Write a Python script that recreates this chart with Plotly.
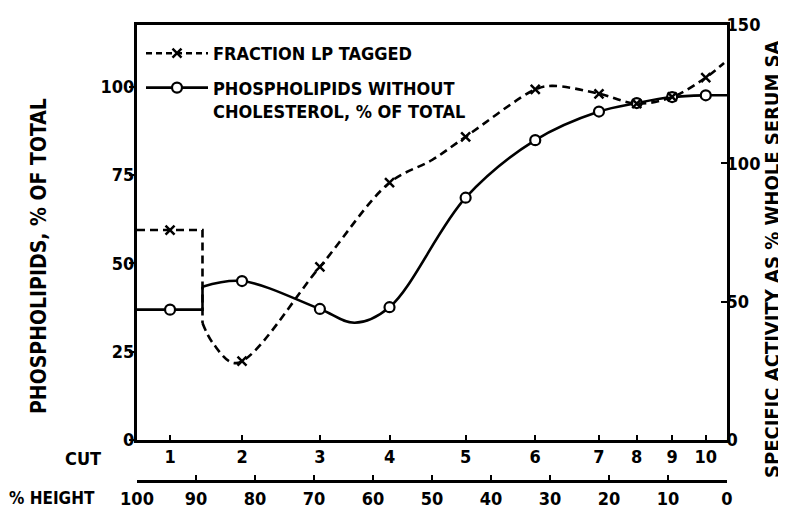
import plotly.graph_objects as go

# ---- data ----
cut_labels = ["1", "2", "3", "4", "5", "6", "7", "8", "9", "10"]
cut_pct_height = [94.4, 82.2, 69.0, 57.2, 44.3, 32.5, 21.7, 15.3, 9.3, 3.6]

# phospholipids without cholesterol, % of total (left axis) at each cut
phospholipids = [36.9, 45.0, 37.1, 37.6, 68.6, 84.9, 93.0, 95.4, 97.1, 97.6]
# fraction LP tagged, specific activity as % whole serum SA (right axis) at each cut
lp_tagged = [75.9, 28.5, 62.6, 93.0, 109.6, 126.7, 125.1, 121.6, 124.0, 131.0]

# drawn curves (step over cut 1, then smooth curve)
pl_step_x = [100, 88.9, 88.9]
pl_step_y = [36.9, 36.9, 43.4]
pl_curve_x = [88.9, 82.2, 69.0, 63.1, 57.2, 44.3, 32.5, 21.7, 15.3, 9.3, 3.6, 0]
pl_curve_y = [43.4, 45.0, 37.1, 33.2, 37.6, 68.6, 84.9, 93.0, 95.4, 97.1, 97.6, 97.6]

lp_step_x = [100, 88.9, 88.9]
lp_step_y = [75.9, 75.9, 42.3]
lp_curve_x = [88.9, 87.1, 83.2, 69.0, 57.2, 50.0, 44.3, 32.5, 29.7, 21.7, 15.3, 9.3, 3.6, 0.5]
lp_curve_y = [42.3, 34.9, 27.8, 62.6, 93.0, 101.2, 109.6, 126.7, 128.0, 125.2, 121.6, 124.0, 131.0, 136.3]

height_ticks = [100, 90, 80, 70, 60, 50, 40, 30, 20, 10, 0]
left_ticks = [0, 25, 50, 75, 100]
right_ticks = [0, 50, 100, 150]

FONT = "Liberation Sans Narrow, DejaVu Sans Condensed, Liberation Sans, Arial"
INK = "black"
LW = 2.6
DASH = "8px,5px"

fig = go.Figure()

fig.add_trace(go.Scatter(x=pl_step_x, y=pl_step_y, mode="lines",
                         line=dict(color=INK, width=LW), showlegend=False,
                         xaxis="x", yaxis="y"))
fig.add_trace(go.Scatter(x=pl_curve_x, y=pl_curve_y, mode="lines",
                         line=dict(color=INK, width=LW, shape="spline", smoothing=1.0),
                         showlegend=False, xaxis="x", yaxis="y"))

fig.add_trace(go.Scatter(x=lp_step_x, y=lp_step_y, mode="lines",
                         line=dict(color=INK, width=LW, dash=DASH), showlegend=False,
                         xaxis="x", yaxis="y2"))
fig.add_trace(go.Scatter(x=lp_curve_x, y=lp_curve_y, mode="lines",
                         line=dict(color=INK, width=LW, dash=DASH, shape="spline", smoothing=1.0),
                         showlegend=False, xaxis="x", yaxis="y2"))

circle_marker = dict(symbol="circle", size=10, color="white", line=dict(color=INK, width=2.2))
x_marker = dict(symbol="x-thin", size=9, color=INK, line=dict(color=INK, width=2.5))

fig.add_trace(go.Scatter(x=cut_pct_height, y=lp_tagged, mode="markers",
                         marker=x_marker, showlegend=False, xaxis="x", yaxis="y2"))
fig.add_trace(go.Scatter(x=cut_pct_height, y=phospholipids, mode="markers",
                         marker=circle_marker, showlegend=False, xaxis="x", yaxis="y"))

fig.add_trace(go.Scatter(x=[None], y=[None], mode="lines+markers",
                         name="FRACTION LP TAGGED", legendgroup="a",
                         line=dict(color=INK, width=LW, dash="6px,4px"), marker=x_marker,
                         xaxis="x", yaxis="y2"))
fig.add_trace(go.Scatter(x=[None], y=[None], mode="lines+markers",
                         name="PHOSPHOLIPIDS WITHOUT<br>CHOLESTEROL, % OF TOTAL", legendgroup="b",
                         line=dict(color=INK, width=LW), marker=circle_marker,
                         xaxis="x", yaxis="y"))

fig.add_trace(go.Scatter(x=[100, 0], y=[0, 0], mode="markers", marker=dict(opacity=0),
                         showlegend=False, hoverinfo="skip", xaxis="x2", yaxis="y"))

# page geometry (the page body adds an 8px offset)
OFF = 8
PAGE_W, PAGE_H = 786, 514
PL, PR, PT, PB = 137, 727, 25, 481     # plot area in page pixels (PB = % height axis)
W, H = PAGE_W - OFF, PAGE_H - OFF
ml, mt = PL - OFF, PT - OFF
mr, mb = PAGE_W - PR, PAGE_H - PB
plot_w = PR - PL
plot_h = PB - PT
ydom0 = (PB - 440) / plot_h


def px(x):
    return (x - PL) / plot_w


def py(y):
    return (PB - y) / plot_h


axis_font = dict(family=FONT, size=18, color=INK, weight="bold")

fig.update_layout(
    width=W, height=H,
    margin=dict(l=ml, r=mr, t=mt, b=mb, pad=0, autoexpand=False),
    paper_bgcolor="white", plot_bgcolor="white",
    font=dict(family=FONT, size=18, color=INK, weight="bold"),
    xaxis=dict(range=[100, 0], tickvals=cut_pct_height, ticktext=cut_labels,
               ticks="inside", ticklen=5, tickwidth=2, tickcolor=INK,
               showline=True, linecolor=INK, linewidth=3, mirror=True,
               showgrid=False, zeroline=False, anchor="y", automargin=False,
               tickfont=axis_font, ticklabelstandoff=-2),
    xaxis2=dict(range=[100, 0], tickvals=height_ticks, overlaying="x",
                anchor="free", position=0, side="bottom", automargin=False,
                ticks="inside", ticklen=5, tickwidth=2, tickcolor=INK,
                showline=True, linecolor=INK, linewidth=2.5,
                showgrid=False, zeroline=False, tickfont=axis_font,
                ticklabelstandoff=1),
    yaxis=dict(range=[0, 117.5], domain=[ydom0, 1], tickvals=left_ticks,
               ticks="outside", ticklen=5, tickwidth=2, tickcolor=INK,
               showline=True, linecolor=INK, linewidth=3, automargin=False,
               showgrid=False, zeroline=False, tickfont=axis_font,
               ticklabelstandoff=-9),
    yaxis2=dict(range=[0, 150], overlaying="y", side="right", anchor="x",
                tickvals=right_ticks, ticks="inside", ticklen=6, tickwidth=2,
                tickcolor=INK, showline=True, linecolor=INK, linewidth=3,
                showgrid=False, zeroline=False, tickfont=axis_font,
                automargin=False, ticklabelstandoff=-7),
    legend=dict(x=4 / plot_w, y=1 - 10 / plot_h, xanchor="left", yanchor="top",
                itemwidth=62,
                bgcolor="rgba(0,0,0,0)", traceorder="grouped", tracegroupgap=8,
                valign="top", font=dict(family=FONT, size=18, color=INK, weight="bold")),
    showlegend=True,
)

fig.add_annotation(text="PHOSPHOLIPIDS, % OF TOTAL", textangle=-90,
                   xref="paper", yref="paper", x=px(39), y=py(256),
                   xanchor="center", yanchor="middle", showarrow=False,
                   font=dict(family=FONT, size=21, color=INK, weight="bold"))
fig.add_annotation(text="SPECIFIC ACTIVITY AS % WHOLE SERUM SA", textangle=-90,
                   xref="paper", yref="paper", x=px(772), y=py(259),
                   xanchor="center", yanchor="middle", showarrow=False,
                   font=dict(family=FONT, size=20, color=INK, weight="bold"))
fig.add_annotation(text="CUT", xref="paper", yref="paper", x=px(83), y=py(458),
                   xanchor="center", yanchor="middle", showarrow=False,
                   font=dict(family=FONT, size=18, color=INK, weight="bold"))
fig.add_annotation(text="% HEIGHT", xref="paper", yref="paper", x=px(52), y=py(498),
                   xanchor="center", yanchor="middle", showarrow=False,
                   font=dict(family=FONT, size=17, color=INK, weight="bold"))

fig.write_html("out.html")
